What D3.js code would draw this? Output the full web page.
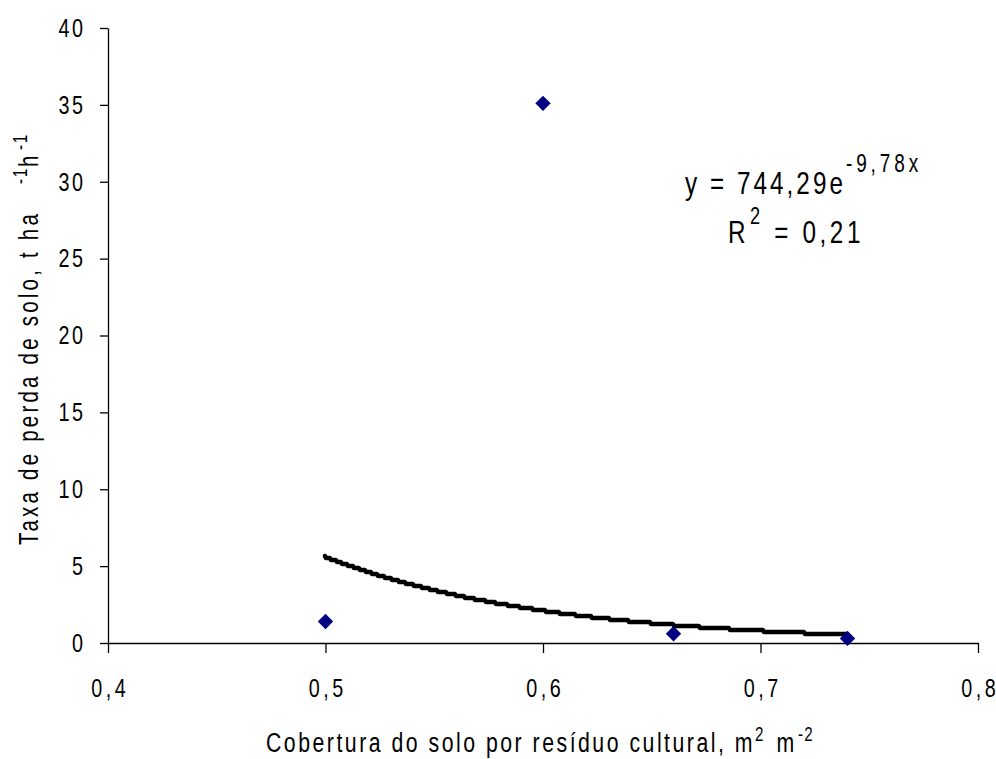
<!DOCTYPE html>
<html>
<head>
<meta charset="utf-8">
<script src="https://cdn.jsdelivr.net/npm/d3@7"></script>
<style>
  html, body { margin: 0; padding: 0; background: #fff; }
  svg { display: block; }
  text { font-family: "Liberation Sans", Arial, sans-serif; fill: #000; }
</style>
</head>
<body>
<svg id="chart" width="996" height="759"></svg>
<script>
// Soil cover by crop residue (m2 m-2) vs. soil loss rate (t ha-1 h-1)
const cover = [0.50, 0.60, 0.66, 0.74];
const soilLoss = [1.4, 35.1, 0.6, 0.3];

// Exponential fit y = a * e^(b x)
const fitA = 744.29;
const fitB = -9.78;
const fitR2 = 0.21;

const xTicks = [0.4, 0.5, 0.6, 0.7, 0.8];
const yTicks = [0, 5, 10, 15, 20, 25, 30, 35, 40];

const svg = d3.select("#chart");
const margin = { left: 108, right: 18, top: 28, bottom: 116 };
const W = 996, H = 759;
const SX = 0.76; // horizontal squeeze giving a narrow typeface look

const x = d3.scaleLinear().domain([0.4, 0.8]).range([margin.left, W - margin.right]);
const y = d3.scaleLinear().domain([0, 40]).range([H - margin.bottom, margin.top]);

const comma = v => String(v).replace(".", ",");
const fmt = d => d3.format(".1f")(d).replace(".", ",");

// Axes
const xAxis = svg.append("g")
  .attr("transform", `translate(0,${y(0)})`)
  .call(d3.axisBottom(x).tickValues(xTicks).tickFormat(fmt).tickSize(10).tickPadding(26).tickSizeOuter(0));
const yAxis = svg.append("g")
  .attr("transform", `translate(${x(0.4)},0)`)
  .call(d3.axisLeft(y).tickValues(yTicks).tickFormat(d3.format("d")).tickSize(8).tickPadding(17).tickSizeOuter(0));

[xAxis, yAxis].forEach(g => {
  g.select(".domain").attr("stroke", "#000").attr("stroke-width", 1.3);
  g.selectAll(".tick line").attr("stroke", "#000").attr("stroke-width", 1.3);
  g.selectAll(".tick text")
    .attr("font-size", 26)
    .style("font-family", '"Liberation Sans", Arial, sans-serif')
    .attr("transform", `scale(${SX},1)`);
});
xAxis.selectAll(".tick text")
  .attr("letter-spacing", 3.6 / SX)
  .attr("text-anchor", "start")
  .attr("x", function () {
    // centre the glyphs (without the trailing gap) under the tick
    const w = this.getComputedTextLength() - 3.6 / SX;
    return -w / 2;
  });
yAxis.selectAll(".tick text")
  .attr("letter-spacing", 2.5 / SX)
  .attr("text-anchor", "start")
  .attr("x", function () {
    // right edge sits 17px left of the tick end
    const w = this.getComputedTextLength() - 2.5 / SX;
    return (-25) / SX - w;
  });

// Trend line, sampled per pixel column and snapped to a coarse pixel grid
const xs = d3.range(Math.round(x(cover[0])), Math.round(x(cover[cover.length - 1])) + 1);
const trendPts = xs.map(px => {
  const v = x.invert(px);
  return [px, Math.round(y(fitA * Math.exp(fitB * v)) / 2) * 2];
});
svg.append("path")
  .datum(trendPts)
  .attr("fill", "none")
  .attr("stroke", "#000")
  .attr("stroke-width", 4.5)
  .attr("stroke-linejoin", "round")
  .attr("stroke-linecap", "round")
  .attr("d", d3.line().curve(d3.curveMonotoneX));

// Observed points as navy diamonds
svg.append("g")
  .selectAll("path")
  .data(cover.map((c, i) => [c, soilLoss[i]]))
  .join("path")
  .attr("transform", d => `translate(${x(d[0])},${y(d[1])})`)
  .attr("d", d3.symbol(d3.symbolDiamond2, 150)())
  .attr("fill", "#000080");

// Narrowed text block at (px, py), optionally rotated
function label(px, py, size, rotate) {
  return svg.append("text")
    .attr("transform", `translate(${px},${py})${rotate ? " rotate(-90)" : ""} scale(${SX},1)`)
    .attr("font-size", size);
}
// Add a run of text and spread its characters so it advances by `width` px
function run(t, str, width, opts = {}) {
  const s = t.append("tspan").text(str);
  if (opts.size) s.attr("font-size", opts.size);
  if (opts.dy) s.attr("dy", opts.dy);
  s.attr("letter-spacing", 0);
  const len = s.node().getComputedTextLength();
  s.attr("letter-spacing", (width / SX - len) / str.length);
  return s;
}

// Equation and R² labels
const eq = label(685, 194, 32);
run(eq, "y = " + comma(fitA) + "e", 161);
run(eq, comma(fitB) + "x", 76, { size: 25, dy: -22 });

const r2 = label(728, 243, 32);
run(r2, "R", 22);
run(r2, "2", 14, { size: 24, dy: -19 });
run(r2, " = " + comma(fitR2), 100, { dy: 19 });

// X axis title
const xt = label(266, 752, 28);
run(xt, "Cobertura do solo por resíduo cultural, m", 489);
run(xt, "2", 12, { size: 20, dy: -11 });
run(xt, " m", 31, { dy: 11 });
run(xt, "-2", 16, { size: 20, dy: -11 });

// Y axis title
const yt = label(38, 545, 27, true);
run(yt, "Taxa de perda de solo, t ha", 334);
const yu = label(38, 184, 27, true);
run(yu, "-1", 17, { size: 20, dy: -11 });
run(yu, "h", 17, { dy: 11 });
run(yu, "-1", 17, { size: 20, dy: -11 });
</script>
</body>
</html>
